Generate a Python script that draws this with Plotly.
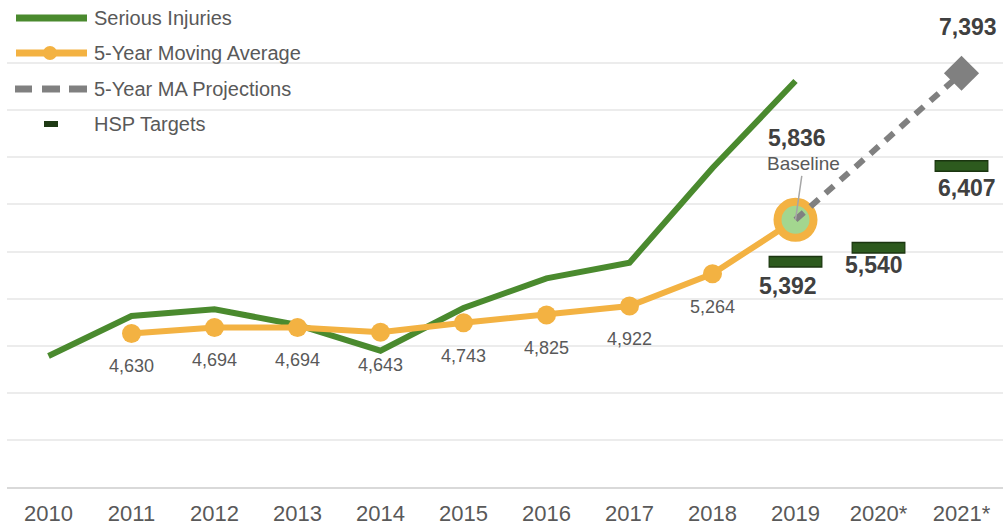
import plotly.graph_objects as go

# data
years = ["2010", "2011", "2012", "2013", "2014", "2015", "2016", "2017", "2018", "2019", "2020*", "2021*"]
injury_years = years[:10]
serious_injuries = [4391, 4815, 4886, 4720, 4447, 4900, 5215, 5381, 6386, 7310]
ma_years = years[1:10]
moving_avg = [4630, 4694, 4694, 4643, 4743, 4825, 4922, 5264, 5836]
proj_years = ["2019", "2021*"]
proj_values = [5836, 7393]
target_years = ["2019", "2020*", "2021*"]
target_values = [5392, 5540, 6407]

GREEN = '#4a8a2e'
ORANGE = '#f3b242'
GREY = '#808080'
DARK = '#2d5a1e'
TXT = '#595959'
BOLD_TXT = '#404040'
FONT = 'Liberation Sans, Arial, sans-serif'


def pos(cat):
    # category position on the x axis (annotations treat '2011' as a number otherwise)
    return years.index(cat)


fig = go.Figure()

fig.add_trace(go.Scatter(x=injury_years, y=serious_injuries, mode='lines',
                         line=dict(color=GREEN, width=6), name='Serious Injuries'))
fig.add_trace(go.Scatter(x=ma_years, y=moving_avg, mode='lines+markers',
                         line=dict(color=ORANGE, width=6),
                         marker=dict(color=ORANGE, size=19), name='5-Year Moving Average'))
# baseline point
fig.add_trace(go.Scatter(x=ma_years[-1:], y=moving_avg[-1:], mode='markers',
                         marker=dict(color='#a3d68f', size=36, line=dict(color=ORANGE, width=8)),
                         showlegend=False))
# projections
fig.add_trace(go.Scatter(x=proj_years, y=proj_values, mode='lines',
                         line=dict(color=GREY, width=6, dash='11px,9px'), name='5-Year MA Projections'))
fig.add_trace(go.Scatter(x=proj_years[-1:], y=proj_values[-1:], mode='markers',
                         marker=dict(symbol='diamond', color=GREY, size=27), showlegend=False))
# HSP targets (border + fill)
fig.add_trace(go.Scatter(x=target_years, y=target_values, mode='markers',
                         marker=dict(symbol='line-ew', size=38.5, line=dict(color='#1b3510', width=12)),
                         showlegend=False))
fig.add_trace(go.Scatter(x=target_years, y=target_values, mode='markers',
                         marker=dict(symbol='line-ew', size=37, line=dict(color=DARK, width=9)),
                         name='HSP Targets'))

annotations = []
# moving average labels (below points)
for x, v in zip(ma_years[:-1], moving_avg[:-1]):
    annotations.append(dict(x=pos(x), y=v, text='{:,}'.format(v), showarrow=False, yshift=-33,
                            font=dict(size=18, color=TXT)))
# baseline
annotations.append(dict(x=pos(ma_years[-1]), y=moving_avg[-1], text='<b>{:,}</b>'.format(moving_avg[-1]),
                        showarrow=False, yshift=82, xshift=1, font=dict(size=23, color=BOLD_TXT)))
annotations.append(dict(x=pos(ma_years[-1]), y=moving_avg[-1], text='Baseline', showarrow=True,
                        ax=8, ay=-56, arrowhead=0, arrowwidth=1.5, arrowcolor='#a6a6a6',
                        font=dict(size=19, color=TXT)))
# projection label
annotations.append(dict(x=pos(proj_years[-1]), y=proj_values[-1], text='<b>{:,}</b>'.format(proj_values[-1]),
                        showarrow=False, yshift=46, xshift=6, font=dict(size=23, color=BOLD_TXT)))
# target labels
for x, v, xs, ys in zip(target_years, target_values, [-8, -5, 5], [-24, -17, -22]):
    annotations.append(dict(x=pos(x), y=v, text='<b>{:,}</b>'.format(v), showarrow=False,
                            yshift=ys, xshift=xs, font=dict(size=23, color=BOLD_TXT)))

# custom legend (pixel offsets from top-left of plot area)
legend_items = ['Serious Injuries', '5-Year Moving Average', '5-Year MA Projections', 'HSP Targets']
legend_rows = [-2, -37, -73, -108]
shapes = []
for label, dy in zip(legend_items, legend_rows):
    annotations.append(dict(xref='paper', yref='paper', x=0, y=1, xshift=85, yshift=dy,
                            xanchor='left', yanchor='middle', text=label, showarrow=False,
                            font=dict(size=20, color=TXT)))


def px_shape(kind, x0, x1, y0, y1, **kw):
    return dict(type=kind, xref='paper', yref='paper', xsizemode='pixel', ysizemode='pixel',
                xanchor=0, yanchor=1, x0=x0, x1=x1, y0=y0, y1=y1, **kw)


shapes.append(px_shape('line', 9, 80, -2, -2, line=dict(color=GREEN, width=7)))
shapes.append(px_shape('line', 9, 80, -37, -37, line=dict(color=ORANGE, width=7)))
shapes.append(px_shape('circle', 36, 50, -30, -44, fillcolor=ORANGE, line=dict(width=0)))
for a, b in [(8, 25), (35, 53), (62, 80)]:
    shapes.append(px_shape('line', a, b, -73, -73, line=dict(color=GREY, width=7)))
shapes.append(px_shape('rect', 37, 51, -105, -111, fillcolor='#1e3a14', line=dict(width=0)))

fig.update_layout(
    width=1003, height=525,
    margin=dict(l=7, r=0, t=16, b=38),
    paper_bgcolor='white', plot_bgcolor='white',
    font=dict(family=FONT, color=TXT),
    showlegend=False,
    annotations=annotations,
    shapes=shapes,
    xaxis=dict(type='category', categoryorder='array', categoryarray=years,
               range=[-0.5, len(years) - 0.5],
               showgrid=False, showline=True, linecolor='#d9d9d9', linewidth=2,
               ticks='', ticklabelstandoff=6, tickfont=dict(size=22, color=TXT)),
    yaxis=dict(range=[3000, 8000], dtick=500, showgrid=True, gridcolor='#ececec', gridwidth=1.5,
               showticklabels=False, zeroline=False, showline=False),
)

fig.write_html("out.html", config={'displayModeBar': False},
               post_script="document.body.style.margin='0';")
